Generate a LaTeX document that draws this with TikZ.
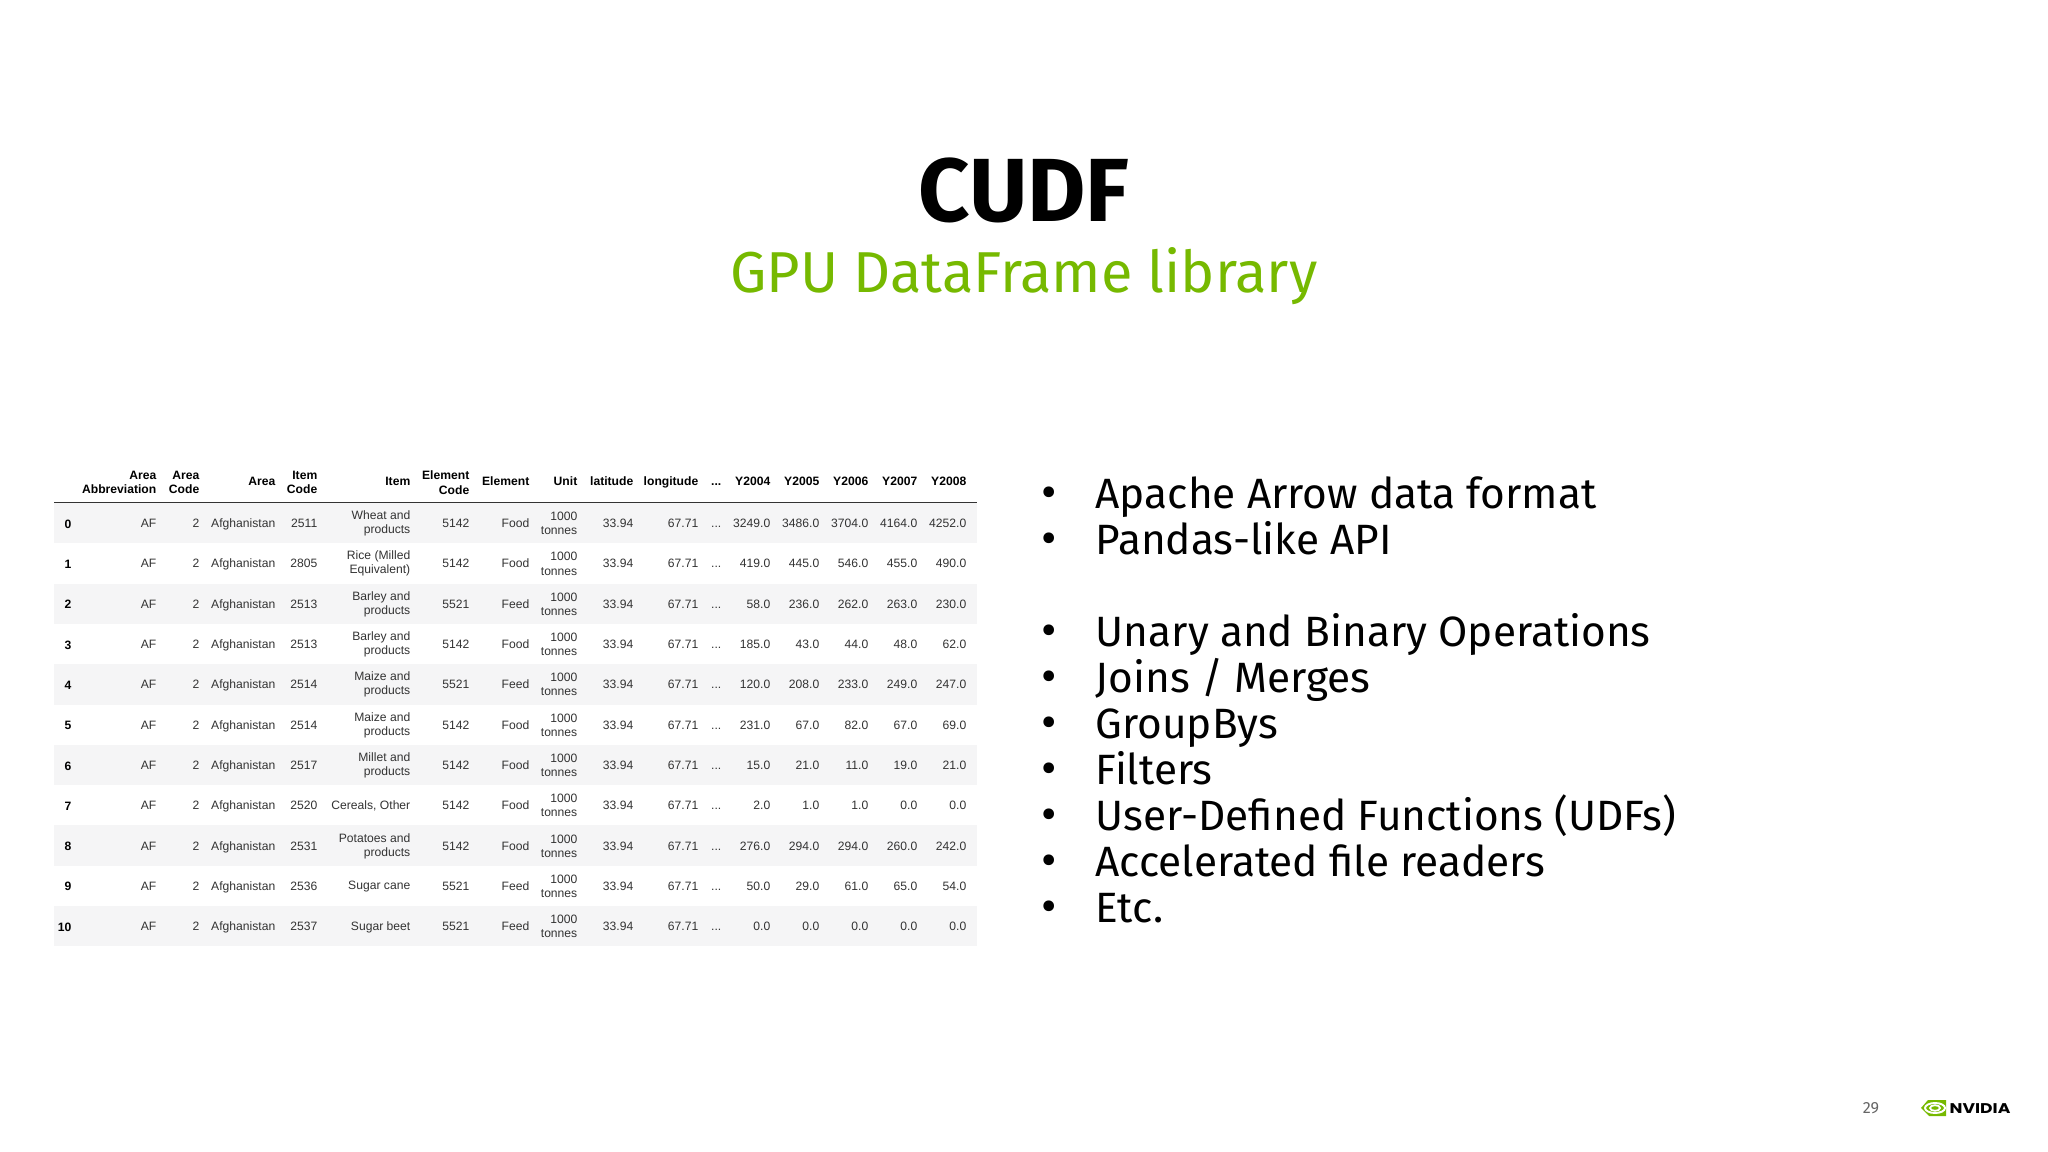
\documentclass[tikz,border=0pt]{standalone}
\usepackage{fontspec}
\setmainfont{Fira Sans}
\newfontfamily\tablefamily{Liberation Sans}
\newfontfamily\logofamily{Poppins}
\definecolor{nvgreen}{HTML}{76B900}
\definecolor{rowgray}{HTML}{F5F5F6}
\definecolor{celltext}{HTML}{333333}
\definecolor{pagenum}{HTML}{666666}
\newcommand{\celldots}{...}
\tikzset{
  cell/.style={anchor=base east,inner sep=0pt,text=celltext,font=\tablefamily\fontsize{3.45}{4}\selectfont},
  wrapcell/.style={cell,anchor=east,align=right,yshift=-0.005cm},
  linecell/.style={cell,yshift=-0.04cm},
  headcell/.style={wrapcell,text=black,font=\tablefamily\bfseries\fontsize{3.45}{4.2}\selectfont},
  headline/.style={cell,yshift=-0.035cm,text=black,font=\tablefamily\bfseries\fontsize{3.45}{4.2}\selectfont},
  indexcell/.style={cell,text=black,font=\tablefamily\bfseries\fontsize{3.45}{4}\selectfont},
  bullettext/.style={anchor=base west,inner sep=0pt,font=\fontsize{12.05}{15}\selectfont,text=black},
  bulletmark/.style={anchor=base,inner sep=0pt,font=\fontsize{13.5}{15}\selectfont,text=black},
}
\begin{document}
\begin{tikzpicture}[x=0.01cm,y=-0.01cm]
  \useasboundingbox (0,0) rectangle (2048,1152);
  \fill[white] (0,0) rectangle (2048,1152);

  \node[anchor=base,inner sep=0pt,font=\bfseries\fontsize{25.5}{30}\selectfont] (title) at (1024,222) {CUDF};
  \node[anchor=base,inner sep=0pt,text=nvgreen,font=\fontsize{16.4}{20}\selectfont] (subtitle) at (1024,293) {GPU DataFrame library};

  \foreach \i in {0,2,...,10}
    \fill[rowgray] (54,503+40.3*\i) rectangle (977,503+40.3*\i+40.3);
  \draw[line width=0.45pt,black!80] (54,502.5) -- (977,502.5);

  \foreach \hx/\hname/\hstyle/\htext in {
    157/abbr/headcell/{Area\\Abbreviation},200/areacode/headcell/{Area\\Code},276/area/headline/Area,318/itemcode/headcell/{Item\\Code},
    411/item/headline/Item,470/elemcode/headcell/{Element\\Code},530/elem/headline/Element,578/unit/headline/Unit,634/lat/headline/latitude,
    699/lon/headline/longitude,722/dots/headline/\celldots,771/ya/headline/Y2004,820/yb/headline/Y2005,869/yc/headline/Y2006,918/yd/headline/Y2007,967/ye/headline/Y2008}
    \node[\hstyle] (head-\hname) at (\hx,482) {\htext};

  \foreach \i/\code/\cropstyle/\crop/\ecode/\elem/\ya/\yb/\yc/\yd/\ye in {
    0/2511/wrapcell/{Wheat and\\products}/5142/Food/3249.0/3486.0/3704.0/4164.0/4252.0,
    1/2805/wrapcell/{Rice (Milled\\Equivalent)}/5142/Food/419.0/445.0/546.0/455.0/490.0,
    2/2513/wrapcell/{Barley and\\products}/5521/Feed/58.0/236.0/262.0/263.0/230.0,
    3/2513/wrapcell/{Barley and\\products}/5142/Food/185.0/43.0/44.0/48.0/62.0,
    4/2514/wrapcell/{Maize and\\products}/5521/Feed/120.0/208.0/233.0/249.0/247.0,
    5/2514/wrapcell/{Maize and\\products}/5142/Food/231.0/67.0/82.0/67.0/69.0,
    6/2517/wrapcell/{Millet and\\products}/5142/Food/15.0/21.0/11.0/19.0/21.0,
    7/2520/linecell/{Cereals, Other}/5142/Food/2.0/1.0/1.0/0.0/0.0,
    8/2531/wrapcell/{Potatoes and\\products}/5142/Food/276.0/294.0/294.0/260.0/242.0,
    9/2536/linecell/{Sugar cane}/5521/Feed/50.0/29.0/61.0/65.0/54.0,
    10/2537/linecell/{Sugar beet}/5521/Feed/0.0/0.0/0.0/0.0/0.0}
  {
    \pgfmathsetmacro\rowy{523+40.3*\i}
    \pgfmathsetmacro\basey{\rowy+4.6}
    \node[indexcell] (idx-\i) at (72,\basey+0.6) {\i};
    \node[cell] (abbr-\i) at (157,\basey) {AF};
    \node[cell] (areacode-\i) at (200,\basey) {2};
    \node[cell] (area-\i) at (276,\basey) {Afghanistan};
    \node[cell] (itemcode-\i) at (318,\basey) {\code};
    \node[\cropstyle] (item-\i) at (411,\rowy) {\crop};
    \node[cell] (elemcode-\i) at (470,\basey) {\ecode};
    \node[cell] (elem-\i) at (530,\basey) {\elem};
    \node[wrapcell] (unit-\i) at (578,\rowy) {1000\\tonnes};
    \node[cell] (lat-\i) at (634,\basey) {33.94};
    \node[cell] (lon-\i) at (699,\basey) {67.71};
    \node[cell] (dots-\i) at (722,\basey) {\celldots};
    \node[cell] (ya-\i) at (771,\basey) {\ya};
    \node[cell] (yb-\i) at (820,\basey) {\yb};
    \node[cell] (yc-\i) at (869,\basey) {\yc};
    \node[cell] (yd-\i) at (918,\basey) {\yd};
    \node[cell] (ye-\i) at (967,\basey) {\ye};
  }

  \foreach \n/\by/\btext in {
    0/508.5/Apache Arrow data format,1/554.5/Pandas-like API,
    2/646.5/Unary and Binary Operations,3/692.5/{Joins / Merges},4/738.5/GroupBys,5/784.5/Filters,
    6/830.5/User-Defined Functions (UDFs),7/876.5/Accelerated file readers,8/922.5/Etc.}
  {
    \node[bulletmark] (mark-\n) at (1049,\by) {•};
    \node[bullettext] (text-\n) at (1095,\by) {\btext};
  }

  \node[inner sep=0pt,text=pagenum,font=\fontsize{4.6}{5}\selectfont] (pagenum) at (1871,1108) {29};

  \fill[nvgreen] (1928,1100) -- (1946,1100) -- (1946,1116) -- (1929,1116) -- (1921,1108) -- cycle;
  \draw[white,line width=0.55pt] (1935,1108) ellipse (10 and 5);
  \draw[white,line width=0.5pt] (1935,1108) ellipse (5 and 2.8);
  \node[anchor=base west,inner sep=0pt,text=black,font=\logofamily\bfseries\fontsize{4}{5}\selectfont] (logo) at (1949,1113) {\scalebox{1.22}[1]{NVIDIA}};
\end{tikzpicture}
\end{document}
